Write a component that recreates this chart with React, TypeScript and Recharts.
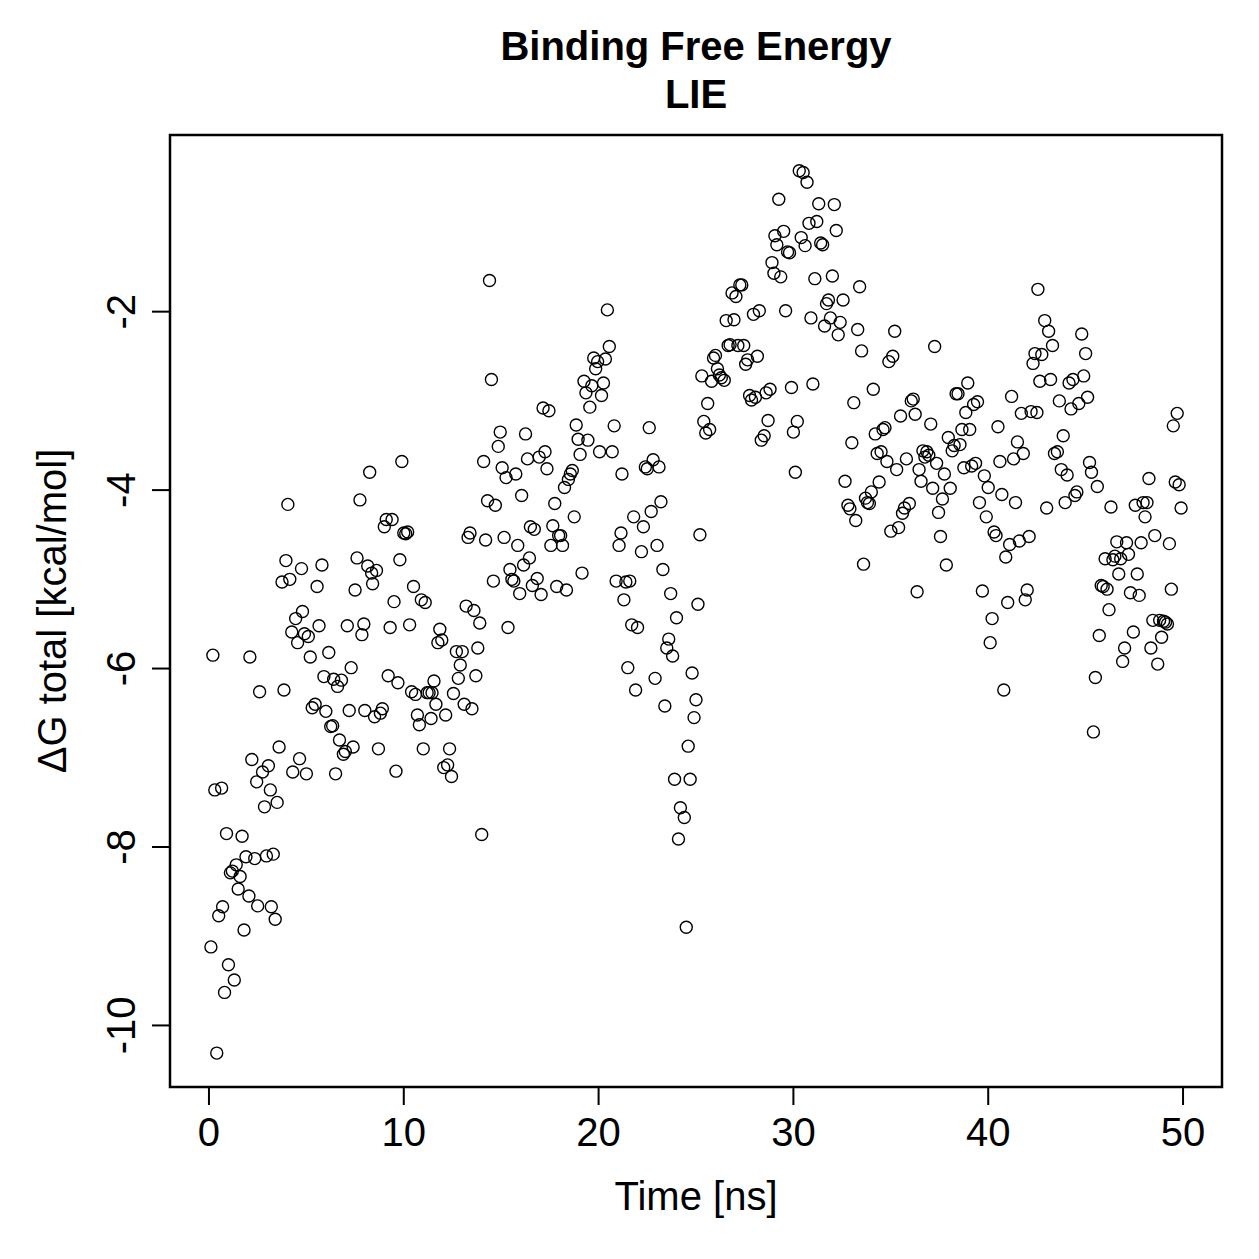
import React from 'react';
import {
  ScatterChart,
  Scatter,
  XAxis,
  YAxis,
  ReferenceArea
} from 'recharts';

// simulation time in ns
const timeNs = [
  0.1, 0.2, 0.3, 0.4, 0.5, 0.65, 0.7, 0.8, 0.9, 1.0, 1.1, 1.2, 1.3, 1.4, 1.5, 1.6, 1.7, 1.8, 1.9, 2.05,
  2.1, 2.2, 2.35, 2.45, 2.5, 2.6, 2.75, 2.85, 2.95, 3.05, 3.15, 3.2, 3.3, 3.4, 3.5, 3.6, 3.75, 3.85, 3.95, 4.05,
  4.15, 4.25, 4.3, 4.45, 4.55, 4.65, 4.75, 4.8, 4.9, 5.0, 5.1, 5.2, 5.3, 5.45, 5.55, 5.65, 5.8, 5.9, 6.0, 6.15,
  6.25, 6.35, 6.4, 6.5, 6.6, 6.7, 6.8, 6.9, 7.0, 7.1, 7.2, 7.3, 7.4, 7.5, 7.6, 7.75, 7.85, 7.95, 8.0, 8.15,
  8.25, 8.35, 8.4, 8.5, 8.6, 8.7, 8.8, 8.9, 9.0, 9.1, 9.2, 9.3, 9.4, 9.5, 9.6, 9.7, 9.8, 9.9, 10.0, 10.1,
  10.2, 10.3, 10.4, 10.5, 10.6, 10.7, 10.8, 10.9, 11.0, 11.1, 11.2, 11.3, 11.4, 11.45, 11.55, 11.65, 11.75, 11.85, 11.95, 12.05,
  12.15, 12.25, 12.35, 12.45, 12.55, 12.7, 12.8, 12.9, 13.0, 13.1, 13.2, 13.3, 13.4, 13.5, 13.6, 13.7, 13.8, 13.9, 14.0, 14.1,
  14.2, 14.3, 14.4, 14.5, 14.6, 14.7, 14.85, 14.95, 15.05, 15.15, 15.25, 15.35, 15.45, 15.55, 15.65, 15.75, 15.85, 15.95, 16.05, 16.15,
  16.25, 16.35, 16.45, 16.5, 16.6, 16.7, 16.85, 16.95, 17.05, 17.15, 17.25, 17.35, 17.45, 17.55, 17.65, 17.75, 17.85, 17.95, 18.05, 18.15,
  18.25, 18.35, 18.45, 18.55, 18.65, 18.75, 18.85, 18.95, 19.05, 19.15, 19.25, 19.35, 19.45, 19.55, 19.65, 19.75, 19.85, 19.95, 20.05, 20.15,
  20.25, 20.35, 20.45, 20.55, 20.7, 20.8, 20.9, 21.05, 21.15, 21.2, 21.3, 21.4, 21.5, 21.6, 21.7, 21.8, 21.9, 22.0, 22.2, 22.3,
  22.4, 22.5, 22.6, 22.7, 22.8, 22.9, 23.0, 23.1, 23.2, 23.3, 23.4, 23.5, 23.6, 23.7, 23.8, 23.9, 24.0, 24.1, 24.2, 24.4,
  24.5, 24.6, 24.7, 24.8, 24.9, 25.0, 25.1, 25.2, 25.3, 25.4, 25.5, 25.6, 25.7, 25.8, 25.9, 26.0, 26.1, 26.2, 26.3, 26.45,
  26.55, 26.65, 26.75, 26.85, 26.95, 27.05, 27.15, 27.25, 27.35, 27.45, 27.55, 27.65, 27.75, 27.85, 27.95, 28.05, 28.15, 28.25, 28.35, 28.5,
  28.6, 28.7, 28.8, 28.9, 29.0, 29.05, 29.15, 29.25, 29.35, 29.5, 29.6, 29.7, 29.8, 29.9, 30.0, 30.1, 30.2, 30.3, 30.4, 30.5,
  30.6, 30.7, 30.8, 30.9, 31.0, 31.1, 31.2, 31.3, 31.4, 31.5, 31.6, 31.7, 31.8, 31.9, 32.0, 32.1, 32.2, 32.3, 32.4, 32.55,
  32.65, 32.8, 32.9, 33.0, 33.1, 33.2, 33.3, 33.4, 33.5, 33.6, 33.7, 33.8, 33.9, 34.0, 34.1, 34.2, 34.3, 34.4, 34.5, 34.6,
  34.7, 34.8, 34.9, 35.0, 35.1, 35.2, 35.3, 35.4, 35.5, 35.6, 35.7, 35.8, 35.95, 36.05, 36.15, 36.25, 36.35, 36.45, 36.55, 36.65,
  36.75, 36.85, 36.95, 37.05, 37.15, 37.25, 37.35, 37.45, 37.55, 37.65, 37.75, 37.85, 37.95, 38.05, 38.15, 38.25, 38.35, 38.45, 38.55, 38.65,
  38.75, 38.85, 38.95, 39.05, 39.15, 39.25, 39.35, 39.45, 39.55, 39.7, 39.8, 39.9, 40.0, 40.1, 40.2, 40.3, 40.4, 40.5, 40.6, 40.7,
  40.8, 40.9, 41.0, 41.1, 41.2, 41.3, 41.4, 41.5, 41.6, 41.7, 41.8, 41.9, 42.0, 42.1, 42.2, 42.3, 42.4, 42.5, 42.55, 42.65,
  42.75, 42.9, 43.0, 43.1, 43.2, 43.3, 43.4, 43.55, 43.65, 43.75, 43.85, 43.95, 44.05, 44.15, 44.25, 44.35, 44.45, 44.55, 44.65, 44.8,
  44.9, 45.0, 45.1, 45.2, 45.3, 45.4, 45.5, 45.6, 45.7, 45.8, 45.9, 46.0, 46.1, 46.2, 46.3, 46.4, 46.5, 46.6, 46.7, 46.8,
  46.9, 47.0, 47.1, 47.2, 47.3, 47.45, 47.55, 47.65, 47.75, 47.85, 47.95, 48.05, 48.15, 48.25, 48.35, 48.45, 48.55, 48.7, 48.8, 48.9,
  49.0, 49.1, 49.2, 49.3, 49.4, 49.5, 49.6, 49.7, 49.8, 49.9
];

// LIE binding free energy, kcal/mol
const deltaG = [
  -9.12, -5.85, -7.36, -10.31, -8.77, -7.34, -8.67, -9.63, -7.85, -9.32, -8.29, -8.27, -9.49, -8.2, -8.47, -8.33, -7.88, -8.93, -8.11, -8.55,
  -5.87, -7.02, -8.13, -7.27, -8.66, -6.26, -7.16, -7.55, -8.1, -7.09, -7.36, -8.67, -8.08, -8.81, -7.5, -6.88, -5.03, -6.24, -4.79, -4.16,
  -5.0, -5.59, -7.16, -5.44, -5.71, -7.01, -4.88, -5.36, -5.61, -7.18, -5.64, -5.87, -6.44, -6.4, -5.08, -5.52, -4.84, -6.09, -6.48, -5.82,
  -6.65, -6.64, -6.12, -7.18, -6.2, -6.8, -6.13, -6.96, -6.93, -5.52, -6.47, -5.99, -6.88, -5.12, -4.76, -4.11, -5.62, -5.5, -6.47, -4.85,
  -3.8, -4.93, -5.05, -6.54, -4.9, -6.9, -6.5, -6.45, -4.41, -4.33, -6.08, -5.54, -4.33, -5.25, -7.15, -6.16, -4.78, -3.68, -4.48, -4.49,
  -4.47, -5.51, -6.26, -5.08, -6.29, -6.52, -6.63, -5.23, -6.9, -5.26, -6.27, -6.27, -6.56, -6.27, -6.14, -6.4, -5.71, -5.56, -5.68, -7.11,
  -6.52, -7.08, -6.9, -7.21, -6.28, -5.81, -6.11, -5.96, -5.81, -6.4, -5.3, -4.53, -4.48, -6.45, -5.35, -6.08, -5.77, -5.49, -7.86, -3.68,
  -4.56, -4.12, -1.65, -2.76, -5.02, -4.17, -3.51, -3.35, -3.75, -4.53, -3.86, -5.54, -4.89, -5.0, -5.02, -3.82, -4.62, -5.16, -4.06, -4.84,
  -3.37, -3.65, -4.76, -4.41, -5.07, -4.44, -4.99, -3.63, -5.17, -3.08, -3.57, -3.76, -3.11, -4.62, -4.4, -4.15, -5.08, -4.51, -4.51, -4.62,
  -3.97, -5.12, -3.88, -3.82, -3.78, -4.3, -3.27, -3.43, -3.6, -4.93, -2.78, -2.91, -3.44, -3.07, -2.83, -2.52, -2.64, -2.56, -3.57, -2.94,
  -2.8, -2.53, -1.98, -2.39, -3.57, -3.28, -5.02, -4.62, -4.48, -3.82, -5.23, -5.03, -5.99, -5.02, -5.51, -4.3, -6.24, -5.54, -4.69, -4.41,
  -3.74, -3.76, -3.3, -4.24, -3.66, -6.11, -4.62, -3.74, -4.13, -4.89, -6.42, -5.77, -5.67, -5.16, -5.86, -7.24, -5.43, -7.91, -7.56, -7.67,
  -8.9, -6.87, -7.24, -6.05, -6.55, -6.35, -5.28, -4.5, -2.72, -3.23, -3.36, -3.03, -3.32, -2.78, -2.52, -2.49, -2.64, -2.71, -2.74, -2.77,
  -2.1, -2.38, -2.37, -1.79, -2.09, -1.83, -2.38, -1.7, -1.7, -2.38, -2.59, -2.54, -2.94, -2.99, -2.03, -2.96, -2.5, -1.99, -3.44, -3.39,
  -2.91, -3.22, -2.87, -1.45, -1.57, -1.15, -1.25, -0.74, -1.61, -1.1, -1.99, -1.33, -1.34, -2.85, -3.35, -3.8, -3.23, -0.42, -1.17, -0.44,
  -1.26, -0.55, -1.01, -2.07, -2.81, -1.63, -0.99, -0.79, -1.23, -1.25, -2.16, -1.91, -1.87, -2.07, -1.6, -0.8, -1.09, -2.26, -2.12, -1.87,
  -3.9, -4.17, -4.21, -3.47, -3.02, -4.34, -2.2, -1.72, -2.44, -4.83, -4.09, -4.14, -4.15, -4.02, -2.87, -3.37, -3.59, -3.91, -3.57, -3.32,
  -3.3, -3.68, -2.56, -4.46, -2.5, -2.22, -3.77, -4.42, -3.17, -4.26, -4.2, -3.65, -4.15, -3.0, -2.98, -3.15, -5.14, -3.77, -3.9, -3.56,
  -3.63, -3.57, -3.61, -3.26, -3.98, -2.39, -3.7, -4.25, -4.52, -4.1, -3.82, -4.84, -3.41, -3.98, -3.56, -3.5, -2.92, -2.92, -3.49, -3.32,
  -3.75, -3.13, -2.8, -3.32, -3.73, -3.04, -3.7, -3.01, -4.14, -5.13, -3.84, -4.3, -3.97, -5.71, -5.44, -4.47, -4.51, -3.29, -3.68, -4.05,
  -6.24, -4.75, -5.26, -4.61, -2.95, -3.65, -4.14, -3.46, -4.57, -3.14, -3.59, -5.23, -5.12, -4.52, -3.12, -2.58, -2.47, -3.13, -1.75, -2.78,
  -2.48, -2.1, -4.2, -2.22, -2.76, -2.38, -3.59, -3.57, -3.0, -3.77, -3.39, -4.14, -3.83, -2.8, -3.09, -2.76, -4.06, -4.02, -3.03, -2.25,
  -2.72, -2.47, -2.96, -3.69, -3.8, -6.71, -6.1, -3.96, -5.63, -5.07, -5.08, -4.77, -5.11, -5.34, -4.19, -4.78, -4.74, -4.58, -4.94, -4.77,
  -5.92, -5.77, -4.59, -4.72, -5.15, -5.59, -4.17, -4.94, -5.18, -4.59, -4.14, -4.3, -4.14, -3.87, -5.77, -5.46, -4.51, -5.95, -5.46, -5.65,
  -5.47, -5.48, -5.5, -4.6, -5.11, -3.28, -3.91, -3.14, -3.94, -4.2
];

const xTicks = [0, 10, 20, 30, 40, 50];
const yTicks = [-10, -8, -6, -4, -2];

const xLimits: [number, number] = [-2, 52];
const yLimits: [number, number] = [-10.69, -0.02];

const FONT = '"Liberation Sans", Arial, Helvetica, sans-serif';

const points = timeNs.map((t, i) => ({ x: t, y: deltaG[i] }));

const Circle = (props: any) => (
  <circle cx={props.cx} cy={props.cy} r={6} fill="none" stroke="#000" strokeWidth={1.4} />
);

const XTick = ({ x, y, payload }: any) => (
  <text x={x} y={y + 29} textAnchor="middle" fontSize={40} fontFamily={FONT} fill="#000">
    {payload.value}
  </text>
);

const YTick = ({ x, y, payload }: any) => (
  <text
    x={x}
    y={y}
    transform={`rotate(-90, ${x}, ${y})`}
    textAnchor="middle"
    fontSize={40}
    fontFamily={FONT}
    fill="#000"
  >
    {payload.value}
  </text>
);

export default function App() {
  return (
    <div style={{ position: 'absolute', left: 0, top: 0, width: 1259, height: 1259, background: '#fff', fontFamily: FONT }}>
      <div style={{ position: 'absolute', left: 170, width: 1052, top: 22, textAlign: 'center', fontWeight: 'bold', fontSize: 40, lineHeight: '48px', color: '#000' }}>
        Binding Free Energy
        <br />
        LIE
      </div>
      <div style={{ position: 'absolute', left: 170, width: 1052, top: 1172, textAlign: 'center', fontSize: 40, lineHeight: '48px', color: '#000' }}>
        Time [ns]
      </div>
      <div
        style={{
          position: 'absolute',
          left: 52 - 300,
          top: 611 - 24,
          width: 600,
          height: 48,
          lineHeight: '48px',
          textAlign: 'center',
          fontSize: 40,
          color: '#000',
          transform: 'rotate(-90deg)'
        }}
      >
        ΔG total [kcal/mol]
      </div>
      <ScatterChart width={1259} height={1259} margin={{ top: 135, right: 37, left: 0, bottom: 0 }}>
        <XAxis
          type="number"
          dataKey="x"
          domain={xLimits}
          allowDataOverflow
          ticks={xTicks}
          interval={0}
          height={172}
          axisLine={false}
          tickLine={{ stroke: '#000', strokeWidth: 2 }}
          tickSize={18}
          tickMargin={12}
          tick={<XTick />}
        />
        <YAxis
          type="number"
          dataKey="y"
          domain={yLimits}
          allowDataOverflow
          ticks={yTicks}
          interval={0}
          width={170}
          axisLine={false}
          tickLine={{ stroke: '#000', strokeWidth: 2 }}
          tickSize={18}
          tickMargin={17}
          tick={<YTick />}
        />
        <ReferenceArea
          x1={xLimits[0]}
          x2={xLimits[1]}
          y1={yLimits[0]}
          y2={yLimits[1]}
          fill="none"
          fillOpacity={0}
          stroke="#000"
          strokeWidth={2.5}
          ifOverflow="visible"
        />
        <Scatter data={points} shape={<Circle />} isAnimationActive={false} />
      </ScatterChart>
    </div>
  );
}
